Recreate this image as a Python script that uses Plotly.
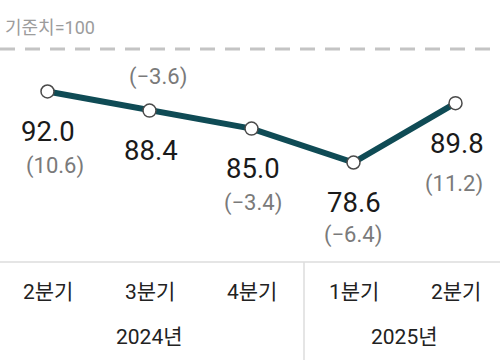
import plotly.graph_objects as go

quarters = ["2분기", "3분기", "4분기", "1분기", "2분기"]
years = ["2024년", "2025년"]
values = [92.0, 88.4, 85.0, 78.6, 89.8]
changes = ["(10.6)", "(−3.6)", "(−3.4)", "(−6.4)", "(11.2)"]
baseline = 100
baseline_label = "기준치=100"

# layout helpers (pixels)
W, H = 500, 360
PLOT_H = 262
X0, STEP = 47.5, 102.0
xs = list(range(len(values)))
x_range = [(0 - X0) / STEP, (W - X0) / STEP]
y_range = [59.83, 109.26]

def px_to_xdata(px):
    return (px - X0) / STEP

def py_to_paper(py):
    return 1 - py / PLOT_H

sub_shift_y = [-75, 34, -74, -72, -81]
sub_shift_x = [7.5, 8.5, 1.5, -0.5, -1.5]
main_shift_x = [0.5, 1, 1, 0.5, 1.5]

KFONT = "Roboto, 'Noto Sans CJK KR', sans-serif"

fig = go.Figure()
fig.add_trace(go.Scatter(
    x=xs, y=values, mode="lines+markers",
    line=dict(color="#0f4b55", width=6),
    marker=dict(size=13, color="white", line=dict(color="#4a4a4a", width=1.5)),
    hoverinfo="skip", cliponaxis=False,
))

fig.add_shape(type="line", xref="paper", yref="y", x0=0, x1=1, y0=baseline, y1=baseline,
              line=dict(color="#c4c4c4", width=3, dash="15px,10px"))
fig.add_shape(type="line", xref="paper", yref="paper", x0=0, x1=1, y0=0, y1=0,
              line=dict(color="#dcdcdc", width=1.5))
fig.add_shape(type="line", xref="x", yref="paper", x0=px_to_xdata(304), x1=px_to_xdata(304),
              y0=0, y1=py_to_paper(H), line=dict(color="#dcdcdc", width=1.5))

ann = []
ann.append(dict(x=0, xref="paper", y=py_to_paper(28), yref="paper", text=baseline_label,
                showarrow=False, xanchor="left", yanchor="middle", xshift=3,
                font=dict(size=18, color="#9c9c9c", family=KFONT)))
for i, (v, c) in enumerate(zip(values, changes)):
    ann.append(dict(x=i, y=v, xref="x", yref="y", text=f"{v:.1f}", showarrow=False,
                    xanchor="center", yanchor="middle", yshift=-40, xshift=main_shift_x[i],
                    font=dict(size=27.5, color="#1a1a1a", family=KFONT)))
    ann.append(dict(x=i, y=v, xref="x", yref="y", text=c, showarrow=False,
                    xanchor="center", yanchor="middle", yshift=sub_shift_y[i], xshift=sub_shift_x[i],
                    font=dict(size=22, color="#7a7a7a", family=KFONT)))
for i, q in enumerate(quarters):
    ann.append(dict(x=i, xref="x", y=py_to_paper(291.5), yref="paper", text=q, showarrow=False,
                    xanchor="center", yanchor="middle",
                    font=dict(size=21, color="#222222", family=KFONT)))
year_pos = [1, 3.5]
for yl, xp in zip(years, year_pos):
    ann.append(dict(x=xp, xref="x", y=py_to_paper(336.5), yref="paper", text=yl, showarrow=False,
                    xanchor="center", yanchor="middle",
                    font=dict(size=21, color="#222222", family=KFONT)))

fig.update_layout(
    width=W, height=H,
    margin=dict(l=0, r=0, t=0, b=H - PLOT_H),
    paper_bgcolor="white", plot_bgcolor="white",
    showlegend=False,
    xaxis=dict(range=x_range, visible=False, fixedrange=True),
    yaxis=dict(range=y_range, visible=False, fixedrange=True),
    annotations=ann,
)

fig.write_html("out.html", config={"displayModeBar": False},
               post_script="document.body.style.margin='0';document.body.style.overflow='hidden';")
